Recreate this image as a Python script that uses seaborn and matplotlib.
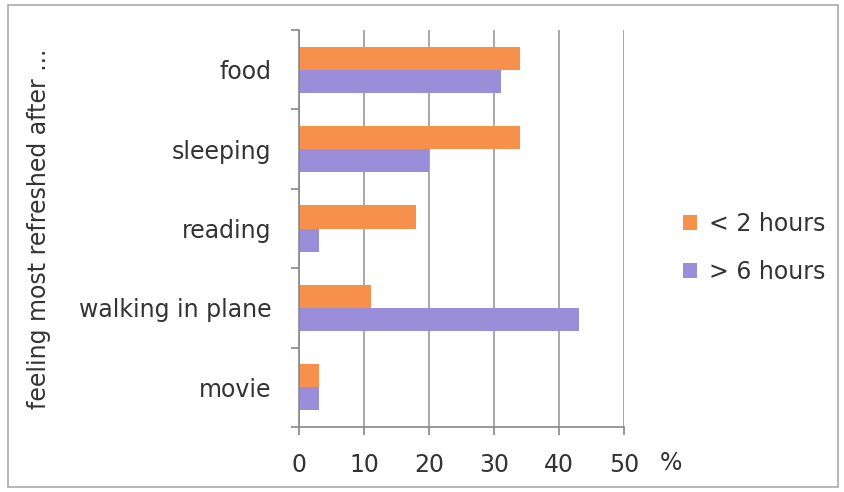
import matplotlib
matplotlib.use("Agg")
import matplotlib.pyplot as plt
import seaborn as sns
import pandas as pd
from matplotlib.patches import Rectangle, Patch

categories = ["food", "sleeping", "reading", "walking in plane", "movie"]
series_names = ["< 2 hours", "> 6 hours"]
under_2h = [34, 34, 18, 11, 3]
over_6h = [31, 20, 3, 43, 3]
x_ticks = [0, 10, 20, 30, 40, 50]

df = pd.DataFrame({
    "activity": categories * 2,
    "series": [series_names[0]] * len(categories) + [series_names[1]] * len(categories),
    "value": under_2h + over_6h,
})

sns.set_style("white")
plt.rcParams["font.family"] = ["DejaVu Sans"]

colors = ["#F7904A", "#9A8EDB"]
fig = plt.figure(figsize=(8.44, 4.92), dpi=100)
ax = fig.add_axes([299 / 844, 1 - 427 / 492, (624 - 299) / 844, (427 - 30) / 492])

sns.barplot(data=df, x="value", y="activity", hue="series", order=categories,
            hue_order=series_names, palette=colors, orient="h", width=0.58,
            saturation=1, ax=ax, legend=False, linewidth=0)

ax.set_xlim(0, 50)
ax.set_ylim(4.5, -0.5)
ax.set_xticks(x_ticks)
ax.set_xticklabels([str(t) for t in x_ticks], fontsize=17, color="#333333")
ax.tick_params(axis="x", bottom=True, length=6, color="#888888", width=1.2, pad=13)
ax.tick_params(axis="y", which="major", left=False, length=0, pad=20, labelsize=17, labelcolor="#333333")
ax.set_yticks([i + 0.5 for i in range(-1, len(categories))], minor=True)
ax.tick_params(axis="y", which="minor", left=True, length=6, color="#888888", width=1.2)
ax.xaxis.grid(True, color="#999999", linewidth=1.2)
ax.set_axisbelow(True)
for s in ["top", "right"]:
    ax.spines[s].set_visible(False)
for s in ["left", "bottom"]:
    ax.spines[s].set_color("#888888")
    ax.spines[s].set_linewidth(1.2)
ax.set_xlabel("")
ax.set_ylabel("feeling most refreshed after ...", fontsize=17, color="#333333")
ax.yaxis.set_label_coords(-(299 - 51) / 325, 0.5)

fig.text(660 / 844, 1 - 463 / 492, "%", fontsize=17, color="#333333", va="center", ha="left")

handles = [Patch(facecolor=c, edgecolor="none") for c in colors]
fig.legend(handles, series_names, loc="center left", bbox_to_anchor=(662 / 844, 1 - 248 / 492),
           frameon=False, fontsize=17, handlelength=0.6, handleheight=0.6,
           handletextpad=0.5, labelspacing=1.0, labelcolor="#333333")

fig.patches.append(Rectangle((8 / 844, 5 / 492), 830 / 844, 482 / 492, transform=fig.transFigure,
                             fill=False, edgecolor="#AAAAAA", linewidth=1.2))

fig.savefig("out.png", dpi=100)
